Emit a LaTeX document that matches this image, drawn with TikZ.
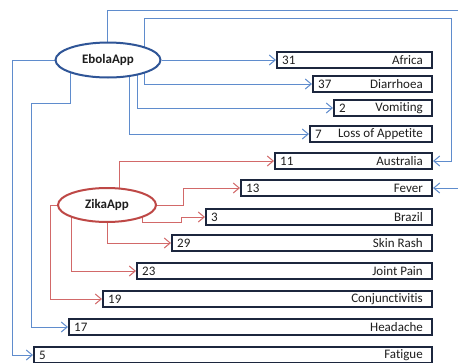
\documentclass[tikz,border=0pt]{standalone}
\usepackage{fontspec}
\setmainfont{Carlito}[Ligatures=NoCommon]
\usetikzlibrary{arrows.meta,shapes.geometric}
\definecolor{econ}{RGB}{95,140,205}
\definecolor{zcon}{RGB}{210,105,105}
\definecolor{eline}{RGB}{47,85,151}
\definecolor{zline}{RGB}{190,72,70}
\definecolor{bline}{RGB}{28,38,62}
\definecolor{txt}{RGB}{30,30,30}
\pgfdeclarelayer{bg}
\pgfsetlayers{bg,main}
\tikzset{
  app/.style={ellipse, draw, line width=2pt, fill=white, inner sep=0pt, font=\fontsize{13}{15}\selectfont\bfseries, text=txt},
  sbox/.style={draw=bline, line width=2pt, fill=white, minimum height=16pt, inner sep=0pt, anchor=west},
  numtxt/.style={anchor=west, inner sep=0pt, xshift=6pt, font=\fontsize{13}{15}\selectfont, text=txt},
  labtxt/.style={anchor=east, inner sep=0pt, xshift=-10pt, font=\fontsize{13}{15}\selectfont, text=txt},
  econn/.style={draw=econ, line width=1pt, -{Straight Barb[length=6pt,width=10pt]}},
  zconn/.style={draw=zcon, line width=1pt, -{Straight Barb[length=6pt,width=10pt]}}
}
\newcommand\symbox[5]{%
  \node[sbox, minimum width={430-#2}] (#1) at (#2+1,#3) {};
  \node[numtxt] (#1-n) at (#1.west) {#4};
  \node[labtxt] (#1-l) at (#1.east) {#5};
}
\begin{document}
\begin{tikzpicture}[x=1pt,y=-1pt]
\useasboundingbox (0,0) rectangle (458,362);
\node[app, draw=eline, minimum width=105pt, minimum height=35pt] (ebola) at (108,60) {EbolaApp};
\node[app, draw=zline, minimum width=98pt, minimum height=34pt] (zika) at (107,205) {ZikaApp};
\symbox{africa}{275}{60}{31}{Africa}
\symbox{diarrhoea}{311}{84}{37}{Diarrhoea}
\symbox{vomiting}{332}{108}{2}{Vomiting}
\symbox{appetite}{308}{134}{7}{Loss of Appetite}
\symbox{australia}{273}{161}{11}{Australia}
\symbox{fever}{239}{188}{13}{Fever}
\symbox{brazil}{204}{217}{3}{Brazil}
\symbox{skinrash}{170}{243}{29}{Skin Rash}
\symbox{jointpain}{135}{271}{23}{Joint Pain}
\symbox{conj}{101}{299}{19}{Conjunctivitis}
\symbox{headache}{67}{327}{17}{Headache}
\symbox{fatigue}{32}{355}{5}{Fatigue}
\begin{pgfonlayer}{bg}
\fill[white] (0,0) rectangle (458,362);
% EbolaApp connectors
\draw[econn] ([xshift=-1pt]ebola.center) |- (464,10) |- (fever.east);
\draw[econn] ([xshift=36pt]ebola.center) |- (451,18) |- (australia.east);
\draw[econn] ([xshift=36pt]ebola.center) |- (diarrhoea.west);
\draw[econn] (ebola.east) -- (africa.west);
\draw[econn] ([xshift=29pt]ebola.center) |- (vomiting.west);
\draw[econn] ([xshift=21pt]ebola.center) |- (appetite.west);
\draw[econn] ([xshift=-38pt]ebola.center) |- (31,103) |- (headache.west);
\draw[econn] (ebola.west) -- (12,60) |- (fatigue.west);
% ZikaApp connectors
\draw[zconn] ([xshift=12pt]zika.center) |- (australia.west);
\draw[zconn] (zika.east) -- (183,205) |- (fever.west);
\draw[zconn] ([xshift=35pt]zika.center) |- (181,222) |- (brazil.west);
\draw[zconn] (zika.center) |- (skinrash.west);
\draw[zconn] ([xshift=-36pt]zika.center) |- (jointpain.west);
\draw[zconn] (zika.west) -- (50,205) |- (conj.west);
\end{pgfonlayer}
\end{tikzpicture}
\end{document}
